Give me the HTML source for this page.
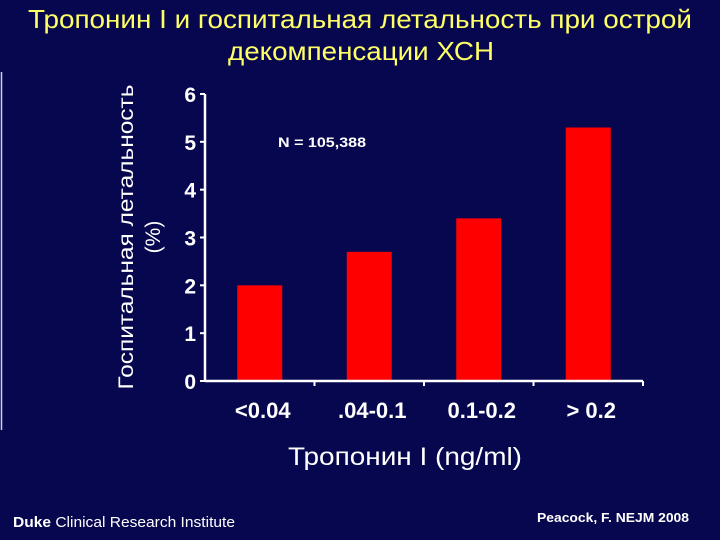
<!DOCTYPE html>
<html><head><meta charset="utf-8"><style>
body{margin:0;background:#07074f;}
svg{display:block;font-family:"Liberation Sans",sans-serif;}
</style></head><body>
<svg id="c" width="720" height="540" viewBox="0 0 720 540">
<rect x="0" y="0" width="720" height="540" fill="#07074f"/>
<line x1="1.5" y1="72" x2="1.5" y2="430" stroke="#cfd0e8" stroke-width="1.5"/>
<text x="28" y="28" fill="#ffff66" font-size="26" textLength="664" lengthAdjust="spacingAndGlyphs">Тропонин I и госпитальная летальность при острой</text>
<text x="228" y="60" fill="#ffff66" font-size="26" textLength="266" lengthAdjust="spacingAndGlyphs">декомпенсации ХСН</text>
<text transform="translate(133,237) rotate(-90)" fill="#fff" font-size="21" text-anchor="middle" textLength="305" lengthAdjust="spacingAndGlyphs">Госпитальная летальность</text>
<text transform="translate(160,237) rotate(-90)" fill="#fff" font-size="21" text-anchor="middle">(%)</text>
<text x="278" y="147" fill="#fff" font-size="14" font-weight="bold" textLength="88" lengthAdjust="spacingAndGlyphs">N = 105,388</text>
<g id="plot"></g>
<text x="288" y="465" fill="#fff" font-size="25" textLength="234" lengthAdjust="spacingAndGlyphs">Тропонин I (ng/ml)</text>
<text x="13" y="527" fill="#fff" font-size="15" textLength="222" lengthAdjust="spacingAndGlyphs"><tspan font-weight="bold">Duke</tspan> Clinical Research Institute</text>
<text x="537" y="522" fill="#fff" font-size="13" font-weight="bold" textLength="152" lengthAdjust="spacingAndGlyphs">Peacock, F. NEJM 2008</text>
</svg>
<script>
const categories=["<0.04",".04-0.1","0.1-0.2","> 0.2"];
const values=[2.0,2.7,3.4,5.3];
const yTicks=[0,1,2,3,4,5,6];
const NS="http://www.w3.org/2000/svg";
const g=document.getElementById('plot');
const x0=205,x1=643,y0=381,y6=94,yMax=6;
const band=(x1-x0)/categories.length;
const ys=v=>y0-(v/yMax)*(y0-y6);
const xs=i=>x0+band*(i+0.5);
function mk(t,a){const e=document.createElementNS(NS,t);for(const k in a)e.setAttribute(k,a[k]);g.appendChild(e);return e;}
values.forEach((v,i)=>{
 const r=mk('rect',{x:xs(i)-22.5,y:ys(v),width:45,height:y0-ys(v),fill:'#ff0000'});
 
 
});
const ya=mk('line',{x1:x0,y1:y6,x2:x0,y2:y0,stroke:'#fff','stroke-width':2.5});


const xa=mk('line',{x1:x0,y1:y0,x2:x1,y2:y0,stroke:'#fff','stroke-width':2.5});


yTicks.forEach(t=>{
 const l=mk('line',{x1:x0-5,y1:ys(t),x2:x0,y2:ys(t),stroke:'#fff','stroke-width':2});
 
 
 const tx=mk('text',{x:x0-9,y:ys(t)+8,fill:'#fff','font-size':21,'font-weight':'bold','text-anchor':'end'});
 tx.textContent=t;
 
 
});
categories.forEach((c,i)=>{
 const l=mk('line',{x1:x0+band*(i+1),y1:y0,x2:x0+band*(i+1),y2:y0+5,stroke:'#fff','stroke-width':2});
 
 
 const tx=mk('text',{x:xs(i)+3,y:418,fill:'#fff','font-size':22,'font-weight':'bold','text-anchor':'middle'});
 tx.textContent=c;
 
 
});
</script>
</body></html>
